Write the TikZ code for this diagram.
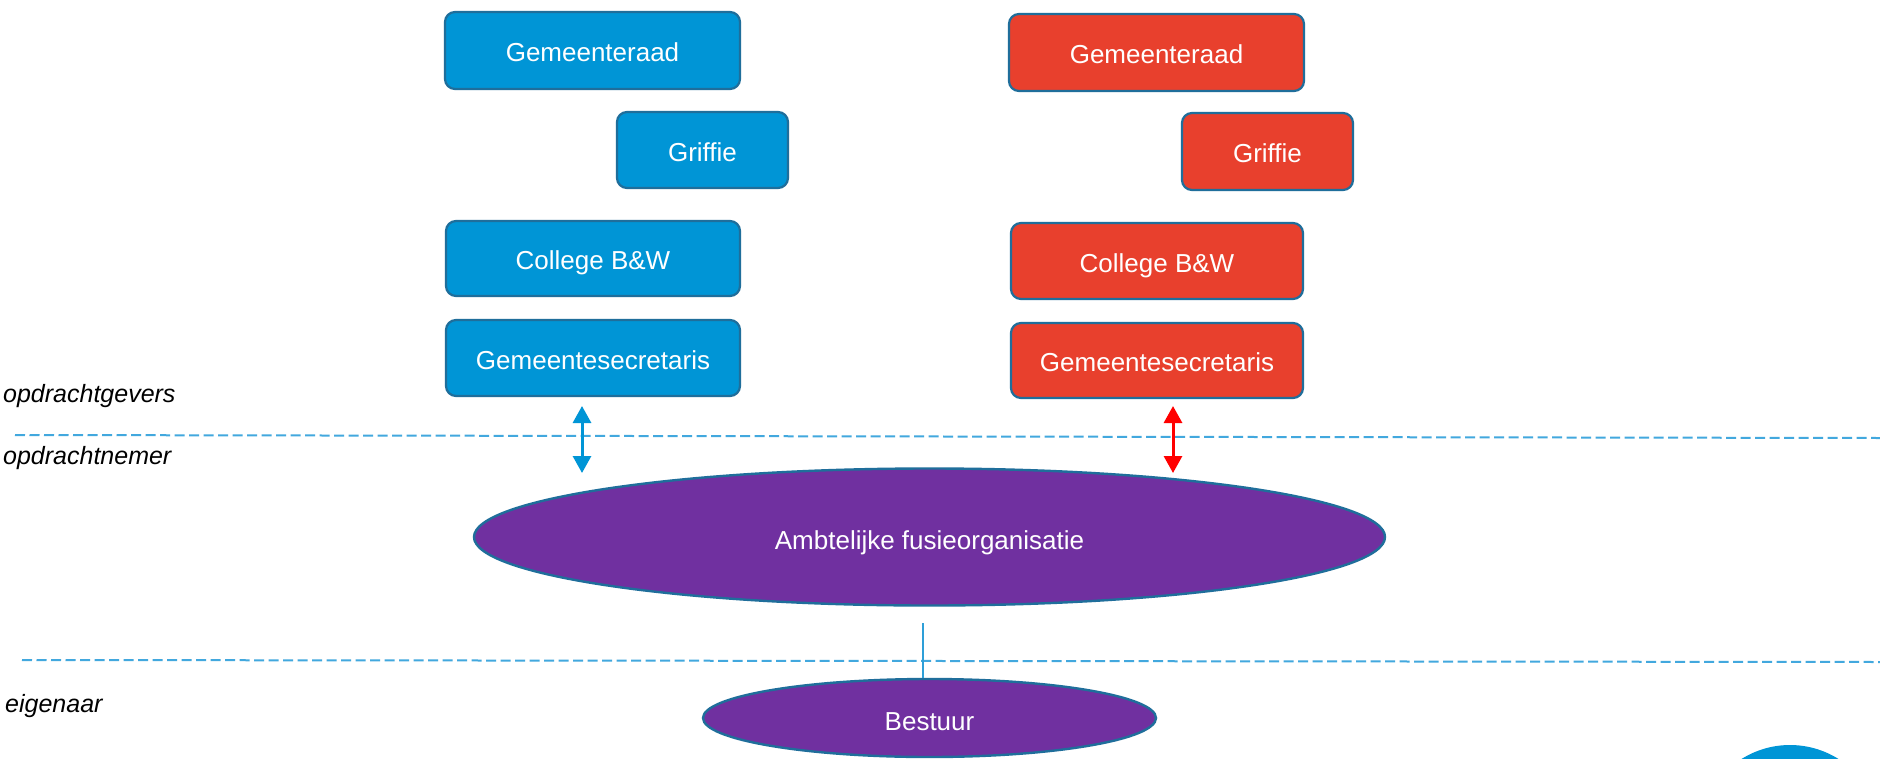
\documentclass[tikz,border=0pt]{standalone}
\usepackage{fontspec}
\setmainfont{Liberation Sans}
\usetikzlibrary{arrows.meta,shapes.geometric}
\definecolor{bboxfill}{RGB}{0,149,214}
\definecolor{rboxfill}{RGB}{232,64,45}
\definecolor{edgeblue}{RGB}{31,110,155}
\definecolor{purplefill}{RGB}{112,48,160}
\definecolor{dashblue}{RGB}{66,168,222}
\definecolor{linkblue}{RGB}{46,159,216}
\begin{document}
\begin{tikzpicture}[x=1pt,y=-1pt,
  box/.style={rectangle, rounded corners=10pt, draw=edgeblue, line width=2.2pt, text=white,
    font=\fontsize{26}{30}\selectfont, inner sep=0pt, minimum height=76pt,
    text height=22.7pt, text depth=0pt},
  bluebox/.style={box, fill=bboxfill},
  redbox/.style={box, fill=rboxfill},
  oval/.style={ellipse, draw=edgeblue, line width=2.4pt, fill=purplefill, text=white,
    font=\fontsize{26}{30}\selectfont, inner sep=0pt, text height=24.7pt, text depth=0pt},
  sidelabel/.style={anchor=base west, inner sep=0pt, font=\fontsize{25}{30}\selectfont\itshape},
  divider/.style={dashblue, line width=2pt, dash pattern=on 10pt off 4.5pt},
  twoway/.style={line width=3pt, {Triangle[width=18pt,length=17pt]}-{Triangle[width=18pt,length=17pt]}}
]
\clip (0,0) rectangle (1880,758);
\fill[white] (0,0) rectangle (1880,758);

% blue column
\node[bluebox, minimum width=295pt, minimum height=77pt] (gr1) at (592.5,50.5) {Gemeenteraad};
\node[bluebox, minimum width=171pt] (gf1) at (702.5,150) {Griffie};
\node[bluebox, minimum width=294pt, minimum height=75pt] (cb1) at (593,258.5) {College B\&W};
\node[bluebox, minimum width=294pt] (gs1) at (593,358) {Gemeentesecretaris};

% red column
\node[redbox, minimum width=295pt, minimum height=77pt] (gr2) at (1156.5,52.5) {Gemeenteraad};
\node[redbox, minimum width=171pt, minimum height=77pt] (gf2) at (1267.5,151.5) {Griffie};
\node[redbox, minimum width=292pt] (cb2) at (1157,261) {College B\&W};
\node[redbox, minimum width=292pt, minimum height=75pt] (gs2) at (1157,360.5) {Gemeentesecretaris};

% ellipses
\node[oval, minimum width=911pt, minimum height=137pt] (amb) at (929.5,537) {Ambtelijke fusieorganisatie};
\node[oval, minimum width=453pt, minimum height=78pt] (bes) at (929.5,718) {Bestuur};

% partial blue shape bottom right
\node[circle, fill=bboxfill, minimum size=182pt, inner sep=0pt] (blob) at (1790,836) {};

% dividers
\coordinate (d1a) at (15,435);
\coordinate (d1b) at (1880,438);
\coordinate (d2a) at (22,660);
\coordinate (d2b) at (1880,662);
\draw[divider] (d1a) -- (d1b);
\draw[divider] (d2a) -- (d2b);

% labels
\node[sidelabel] (lgev) at (3,402) {opdrachtgevers};
\node[sidelabel] (lnem) at (3,464) {opdrachtnemer};
\node[sidelabel] (leig) at (5,712) {eigenaar};

% arrows
\coordinate (ba1) at (582,406);
\coordinate (ba2) at (582,473);
\coordinate (ra1) at (1173,406);
\coordinate (ra2) at (1173,473);
\draw[twoway, bboxfill] (ba1) -- (ba2);
\draw[twoway, red] (ra1) -- (ra2);

% link to Bestuur
\coordinate (lk) at (923,623);
\draw[linkblue, line width=1.5pt] (lk) -- (lk |- bes.north);
\end{tikzpicture}
\end{document}
